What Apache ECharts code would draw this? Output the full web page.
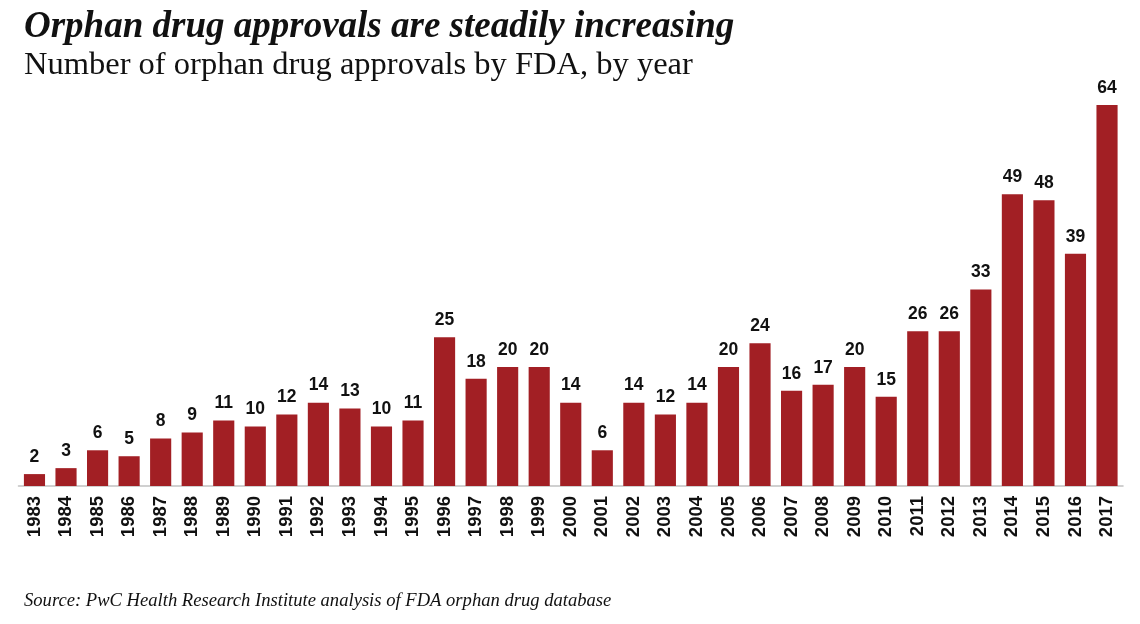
<!DOCTYPE html>
<html>
<head>
<meta charset="utf-8">
<script src="https://cdn.jsdelivr.net/npm/echarts@6/dist/echarts.min.js"></script>
<style>html,body{margin:0;padding:0;background:#fff}#c{width:1140px;height:624px}</style>
</head>
<body>
<div id="c"></div>
<script>
const years = ['1983','1984','1985','1986','1987','1988','1989','1990','1991','1992','1993','1994','1995','1996','1997','1998','1999','2000','2001','2002','2003','2004','2005','2006','2007','2008','2009','2010','2011','2012','2013','2014','2015','2016','2017'];
const approvals = [2,3,6,5,8,9,11,10,12,14,13,10,11,25,18,20,20,14,6,14,12,14,20,24,16,17,20,15,26,26,33,49,48,39,64];
const titleText = 'Orphan drug approvals are steadily increasing';
const subtitleText = 'Number of orphan drug approvals by FDA, by year';
const sourceText = 'Source: PwC Health Research Institute analysis of FDA orphan drug database';

const chart = echarts.init(document.getElementById('c'));
chart.setOption({
  animation: false,
  backgroundColor: '#fff',
  title: [
    {text: titleText, left: 19, top: 4, textStyle: {fontFamily: 'Liberation Serif', fontStyle: 'italic', fontWeight: 'bold', fontSize: 37, color: '#111'}},
    {text: subtitleText, left: 19, top: 44, textStyle: {fontFamily: 'Liberation Serif', fontWeight: 'normal', fontSize: 32.5, color: '#111'}},
    {text: sourceText, left: 19, top: 587, textStyle: {fontFamily: 'Liberation Serif', fontStyle: 'italic', fontWeight: 'normal', fontSize: 18.6, color: '#111'}}
  ],
  grid: {left: 18.7, right: 17.2, top: 105, bottom: 138, containLabel: false},
  xAxis: {
    type: 'category', data: years,
    axisLine: {lineStyle: {color: '#d0d0d0', width: 2}},
    axisTick: {show: false},
    axisLabel: {rotate: 90, fontFamily: 'Liberation Sans', fontWeight: 'bold', fontSize: 18.5, color: '#111', margin: 10}
  },
  yAxis: {type: 'value', min: 0, max: 64, show: false, splitLine: {show: false}},
  series: [{
    type: 'bar', data: approvals, barCategoryGap: '33%',
    itemStyle: {color: '#A21F24'},
    label: {show: true, position: 'top', distance: 8, fontFamily: 'Liberation Sans', fontWeight: 'bold', fontSize: 17.5, color: '#111'}
  }]
});
</script>
</body>
</html>
